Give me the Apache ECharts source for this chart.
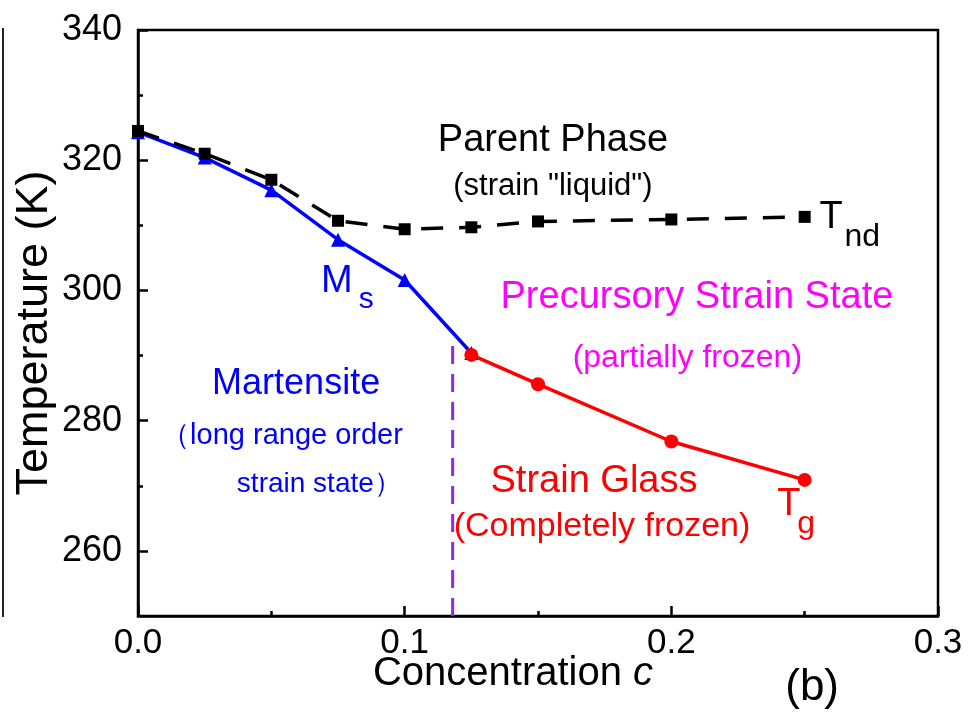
<!DOCTYPE html>
<html>
<head>
<meta charset="utf-8">
<script src="https://cdn.jsdelivr.net/npm/echarts@6/dist/echarts.min.js"></script>
<style>
  html, body { margin: 0; padding: 0; background: #fff; }
  #chart { width: 970px; height: 721px; }
</style>
</head>
<body>
<div id="chart"></div>
<script>
// Phase diagram: transition temperatures vs. concentration c
const concTnd = [0, 0.025, 0.05, 0.075, 0.1, 0.125, 0.15, 0.2, 0.25];
const tempTnd = [324.5, 321.0, 317.0, 310.7, 309.4, 309.7, 310.6, 310.9, 311.3];

const concMs = [0, 0.025, 0.05, 0.075, 0.1, 0.125];
const tempMs = [324.3, 320.4, 315.4, 307.8, 301.6, 290.4];

const concTg = [0.125, 0.15, 0.2, 0.25];
const tempTg = [290.1, 285.6, 276.8, 270.9];

// Martensite / strain-glass boundary
const boundaryConc = [0.118, 0.118];
const boundaryTemp = [250, 292.5];

const yMajorTicks = [260, 280, 300, 320, 340];
const yMinorTicks = [270, 290, 310, 330];
const xTickLabels = ['0.0', '0.1', '0.2', '0.3'];

const FONT = '"Liberation Sans", Arial, sans-serif';

function pairs(xs, ys) { return xs.map((x, i) => [x, ys[i]]); }

const chart = echarts.init(document.getElementById('chart'), null, { renderer: 'canvas' });

const option = {
  backgroundColor: '#fff',
  animation: false,
  textStyle: { fontFamily: FONT },
  grid: {
    left: 138, top: 30, right: 32, bottom: 105,
    show: true, borderColor: '#000', borderWidth: 2.5, backgroundColor: 'transparent'
  },
  xAxis: {
    type: 'value', min: 0, max: 0.3, interval: 0.1,
    name: '{n|Concentration }{i|c}',
    nameLocation: 'middle', nameGap: 38, nameMoveOverlap: false,
    nameTextStyle: {
      padding: [0, 50, 0, 0],
      rich: {
        n: { fontFamily: FONT, fontSize: 40, color: '#000' },
        i: { fontFamily: FONT, fontSize: 40, color: '#000', fontStyle: 'italic' }
      }
    },
    axisLine: { show: true, lineStyle: { color: '#000', width: 2.5 } },
    axisTick: { show: true, inside: true, length: 10, lineStyle: { color: '#000', width: 2.5 } },
    minorTick: { show: true, splitNumber: 2, length: 5, lineStyle: { color: '#000', width: 2.5 } },
    axisLabel: {
      fontFamily: FONT, fontSize: 35, color: '#000', margin: 10,
      formatter: v => xTickLabels[Math.round(v * 10)]
    },
    splitLine: { show: false }
  },
  yAxis: [
    {
      type: 'value', min: 250, max: 340,
      name: 'Temperature (K)',
      nameLocation: 'middle', nameGap: 81, nameMoveOverlap: false,
      nameTextStyle: { fontFamily: FONT, fontSize: 45, color: '#000', padding: [0, 20, 0, 0] },
      axisLine: { show: true, lineStyle: { color: '#000', width: 2.5 } },
      axisTick: { show: true, inside: true, length: 10, customValues: yMajorTicks, lineStyle: { color: '#000', width: 2.5 } },
      axisLabel: { fontFamily: FONT, fontSize: 36, color: '#000', margin: 16, customValues: yMajorTicks },
      splitLine: { show: false }
    },
    {
      type: 'value', min: 250, max: 340, position: 'left',
      axisLine: { show: false },
      axisTick: { show: true, inside: true, length: 5, customValues: yMinorTicks, lineStyle: { color: '#000', width: 2.5 } },
      axisLabel: { show: false },
      splitLine: { show: false }
    }
  ],
  series: [
    {
      name: 'Ms', type: 'line', data: pairs(concMs, tempMs),
      symbol: 'triangle', symbolSize: 14,
      lineStyle: { color: '#0000ff', width: 3.5 },
      itemStyle: { color: '#0000ff' }, z: 2
    },
    {
      name: 'Tnd', type: 'line', data: pairs(concTnd, tempTnd),
      symbol: 'rect', symbolSize: 12,
      lineStyle: { color: '#000', width: 3.5, type: [22, 16] },
      itemStyle: { color: '#000' }, z: 3
    },
    {
      name: 'Tg', type: 'line', data: pairs(concTg, tempTg),
      symbol: 'circle', symbolSize: 14,
      lineStyle: { color: '#ff0000', width: 3.5 },
      itemStyle: { color: '#ff0000' }, z: 4
    },
    {
      name: 'boundary', type: 'line', data: pairs(boundaryConc, boundaryTemp),
      symbol: 'none',
      lineStyle: { color: '#8a2be2', width: 3, type: [18, 10] }, z: 1
    }
  ]
};

chart.setOption(option);

// Region labels, placed in data coordinates
const notes = [
  { t: 'Parent Phase', c: 0.1556, v: 322.95, size: 38, color: '#000' },
  { t: '(strain "liquid")', c: 0.1556, v: 315.9, size: 31, color: '#000' },
  { t: 'T', c: 0.2599, v: 311.13, size: 38, color: '#000' },
  { t: 'nd', c: 0.2716, v: 308.2, size: 32, color: '#000' },
  { t: 'M', c: 0.0746, v: 301.3, size: 38, color: '#0000ff' },
  { t: 's', c: 0.0856, v: 298.5, size: 30, color: '#0000ff' },
  { t: 'Precursory Strain State', c: 0.2096, v: 298.84, size: 38, color: '#ff00ff' },
  { t: '(partially frozen)', c: 0.2060, v: 289.63, size: 32, color: '#ff00ff' },
  { t: 'Martensite', c: 0.0593, v: 285.63, size: 36, color: '#0000ff' },
  { t: '（long range order', c: 0.0540, v: 277.64, size: 29, color: '#0000ff' },
  { t: 'strain state）', c: 0.0680, v: 270.27, size: 28, color: '#0000ff' },
  { t: 'Strain Glass', c: 0.171, v: 270.58, size: 38, color: '#ff0000' },
  { t: '(Completely frozen)', c: 0.1740, v: 263.67, size: 34, color: '#ff0000' },
  { t: 'T', c: 0.2441, v: 267.05, size: 38, color: '#ff0000' },
  { t: 'g', c: 0.2506, v: 264.1, size: 32, color: '#ff0000' },
  { t: '(b)', c: 0.2528, v: 238.94, size: 44, color: '#000' }
];

function drawNotes() {
  const els = notes.map(n => {
    const p = chart.convertToPixel({ gridIndex: 0 }, [n.c, n.v]);
    return {
      type: 'text', x: p[0], y: p[1], z: 10,
      style: {
        text: n.t, fill: n.color, font: n.size + 'px ' + FONT,
        align: 'center', verticalAlign: 'middle'
      }
    };
  });
  const top = chart.convertToPixel({ gridIndex: 0 }, [0, 340]);
  const bot = chart.convertToPixel({ gridIndex: 0 }, [0, 250]);
  // thin frame edge at the far left of the figure
  els.push({
    type: 'line', z: 10,
    shape: { x1: 3, y1: top[1] - 2, x2: 3, y2: bot[1] + 1 },
    style: { stroke: '#222', lineWidth: 2 }
  });
  chart.setOption({ graphic: { elements: els } });
}
drawNotes();
</script>
</body>
</html>
